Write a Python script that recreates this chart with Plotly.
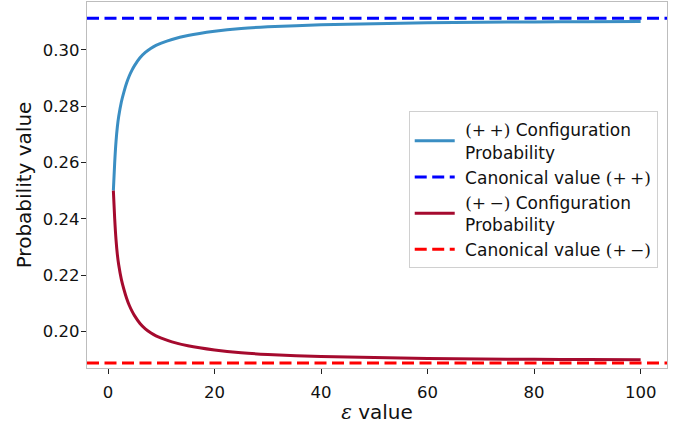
import plotly.graph_objects as go

# ---- data ----
eps = [1, 1.25, 1.5, 1.75, 2, 2.5, 3, 3.5, 4, 4.5, 5, 6, 7, 8, 9, 10, 12, 15, 20, 25, 30, 40,
       50, 60, 70, 80, 90, 100]
p_pp = [0.2500, 0.2600, 0.2675, 0.2727, 0.2763, 0.2815, 0.2852, 0.2883, 0.2908, 0.2928,
        0.2945, 0.2972, 0.2991, 0.3005, 0.3016, 0.3024, 0.3037, 0.3051, 0.3066, 0.3076,
        0.3082, 0.3089, 0.3093, 0.3096, 0.3098, 0.3099, 0.3100, 0.3101]
p_pm = [0.2500, 0.2400, 0.2325, 0.2273, 0.2237, 0.2185, 0.2148, 0.2117, 0.2092, 0.2072,
        0.2055, 0.2028, 0.2009, 0.1995, 0.1984, 0.1976, 0.1963, 0.1949, 0.1934, 0.1924,
        0.1918, 0.1911, 0.1907, 0.1904, 0.1902, 0.1901, 0.1900, 0.1899]
canon_pp = 0.3112
canon_pm = 0.1888
x_ticks = [0, 20, 40, 60, 80, 100]
y_ticks = [0.20, 0.22, 0.24, 0.26, 0.28, 0.30]

C_PP = "#3a8ec3"
C_PM = "#a50a2e"
C_CPP = "#0000ff"
C_CPM = "#ff0000"
DASH = "12px,5.5px"
SERIF = "DejaVu Serif"

def m(s):
    return f'<span style="font-family:{SERIF}">{s}</span>'

fig = go.Figure()
fig.add_trace(go.Scatter(x=eps, y=p_pp, mode="lines", line=dict(color=C_PP, width=3, shape="spline", smoothing=0.8),
                         name=" " + m("(+\u2009+)") + " Configuration<br> Probability"))
fig.add_trace(go.Scatter(x=[None], y=[None], mode="lines", line=dict(color=C_CPP, width=3, dash=DASH),
                         name=" Canonical value " + m("(+\u2009+)")))
fig.add_trace(go.Scatter(x=eps, y=p_pm, mode="lines", line=dict(color=C_PM, width=3, shape="spline", smoothing=0.8),
                         name=" " + m("(+\u2009\u2212)") + " Configuration<br> Probability"))
fig.add_trace(go.Scatter(x=[None], y=[None], mode="lines", line=dict(color=C_CPM, width=3, dash=DASH),
                         name=" Canonical value " + m("(+\u2009\u2212)")))

for val, col in [(canon_pp, C_CPP), (canon_pm, C_CPM)]:
    fig.add_shape(type="line", xref="x domain", yref="y", x0=0, x1=1, y0=val, y1=val,
                  line=dict(color=col, width=3, dash=DASH), layer="above")

axis_common = dict(showline=True, mirror=True, linecolor="#bdbdbd", linewidth=1.3,
                   ticks="outside", ticklen=5, tickwidth=1, tickcolor="#222222",
                   showgrid=False, zeroline=False,
                   tickfont=dict(family="DejaVu Sans", size=16.5, color="#111111"))

fig.update_layout(
    width=682, height=431,
    margin=dict(l=87, r=15, t=2, b=63),
    paper_bgcolor="white", plot_bgcolor="white",
    font=dict(family="DejaVu Sans", color="#111111"),
    xaxis=dict(range=[-3.95, 104.95], tickvals=x_ticks, ticktext=[str(v) for v in x_ticks],
               ticklabelstandoff=4,
               title=dict(text=f'<span style="font-family:{SERIF}"><i>ε</i></span> value',
                          font=dict(size=20), standoff=4),
               **axis_common),
    yaxis=dict(range=[0.1870, 0.3170], tickvals=y_ticks, ticktext=[f"{v:.2f}" for v in y_ticks],
               ticklabelstandoff=-2,
               title=dict(text="Probability value", font=dict(size=20), standoff=5),
               **axis_common),
    legend=dict(x=0.984, y=0.487, xanchor="right", yanchor="middle",
                bgcolor="white", bordercolor="#d0d0d0", borderwidth=1,
                font=dict(family="DejaVu Sans", size=17, color="#111111"),
                tracegroupgap=0, itemwidth=40, valign="middle"),
    showlegend=True,
)

fig.write_html("out.html")
